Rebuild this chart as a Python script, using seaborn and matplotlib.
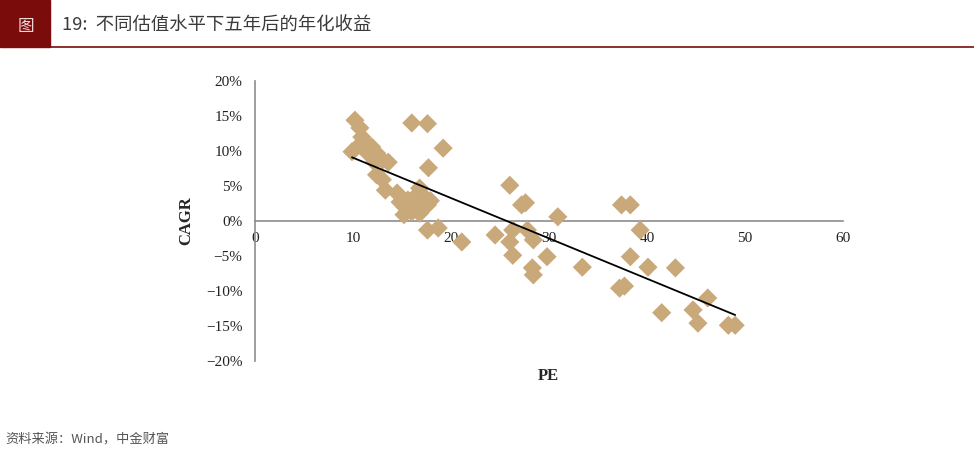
import numpy as np
import pandas as pd
import matplotlib
matplotlib.use("Agg")
import matplotlib.pyplot as plt
import seaborn as sns

# Data (PE vs. 5-year forward CAGR, %)
pe = [10.2, 10.7, 10.9, 9.9, 11.9, 11.5, 12.4, 12.2, 13.0, 13.6,
      12.4, 13.0, 13.3, 14.5, 14.8, 15.3, 16.0, 16.3, 16.8, 16.5,
      16.8, 17.6, 17.9, 17.6, 18.7, 21.1, 16.0, 17.6, 19.2, 17.7,
      11.3, 10.7, 15.6, 17.1, 15.2,
      24.5, 26.0, 27.6, 27.2, 30.9, 26.3, 27.8, 28.4, 26.0, 26.3,
      29.8, 28.3, 28.4, 33.4, 37.4, 38.3, 39.3, 38.3, 40.1, 42.9,
      37.2, 37.7, 41.5, 44.7, 45.2, 46.2, 48.3, 49.0]
cagr = [14.4, 13.3, 12.0, 9.9, 10.6, 9.7, 9.7, 8.4, 8.7, 8.4,
        6.6, 5.9, 4.4, 4.0, 2.7, 2.0, 1.3, 3.4, 4.7, 2.0,
        1.1, 2.3, 2.9, -1.3, -1.0, -3.0, 14.0, 13.9, 10.4, 7.6,
        11.1, 10.9, 3.0, 3.7, 0.9,
        -2.0, 5.1, 2.6, 2.3, 0.6, -1.3, -1.3, -2.7, -3.0, -4.9,
        -5.1, -6.7, -7.7, -6.6, 2.3, 2.3, -1.3, -5.1, -6.6, -6.7,
        -9.6, -9.3, -13.1, -12.7, -14.6, -11.0, -14.9, -14.9]

x_ticks = [0, 10, 20, 30, 40, 50, 60]
y_ticks = [-20, -15, -10, -5, 0, 5, 10, 15, 20]

df = pd.DataFrame({"PE": pe, "CAGR": cagr})

sns.set_theme(style="white")
plt.rcParams["font.family"] = ["Liberation Serif", "Noto Sans CJK SC"]

fig = plt.figure(figsize=(9.74, 4.55), dpi=100)
ax = fig.add_axes([0.2618, 0.2066, 0.6037, 0.6154])

dark_red = "#7a0c0c"
tan = "#c9a87a"

sns.scatterplot(data=df, x="PE", y="CAGR", marker="D", s=95, color=tan,
                edgecolor="none", ax=ax, zorder=3)
sns.regplot(data=df, x="PE", y="CAGR", scatter=False, ci=None, truncate=True,
            line_kws={"color": "black", "lw": 1.3, "zorder": 4}, ax=ax)

ax.set_xlim(0, 60)
ax.set_ylim(-20, 20)
ax.set_xticks(x_ticks)
ax.set_yticks(y_ticks)
ax.set_xticklabels([str(t) for t in x_ticks])
ax.set_yticklabels([f"{t}%".replace("-", "\u2212") for t in y_ticks])
ax.tick_params(axis="both", length=0, labelsize=11, colors="#222222")
ax.tick_params(axis="y", pad=9)
ax.tick_params(axis="x", pad=8)
ax.set_xlabel("")
ax.set_ylabel("")

for side in ["top", "right"]:
    ax.spines[side].set_visible(False)
ax.spines["bottom"].set_position(("data", 0))
ax.spines["left"].set_position(("data", 0))
for side in ["bottom", "left"]:
    ax.spines[side].set_color("#8c8c8c")
    ax.spines[side].set_linewidth(1.2)

fig.text(548 / 974, 1 - 376 / 455, "PE", ha="center", va="center",
         fontsize=12, fontweight="bold", family="Liberation Serif")
fig.text(186 / 974, 1 - 221 / 455, "CAGR", ha="center", va="center",
         rotation=90, fontsize=12, fontweight="bold", family="Liberation Serif")

# Header bar
fig.patches.append(plt.Rectangle((0, 1 - 47 / 455), 50 / 974, 47 / 455,
                                 transform=fig.transFigure, color=dark_red))
fig.text(26 / 974, 1 - 26 / 455, "图", ha="center", va="center", fontsize=12,
         color="#f0d8d8", family=["Noto Sans CJK SC"])
fig.text(62 / 974, 1 - 26 / 455, "19:  不同估值水平下五年后的年化收益",
         ha="left", va="center", fontsize=13.2, color="#3a3a3a",
         family=["Noto Sans CJK SC"])
fig.add_artist(plt.Line2D([0, 1], [1 - 47 / 455, 1 - 47 / 455],
                          transform=fig.transFigure, color=dark_red, lw=1.2))

fig.text(5 / 974, 1 - 440 / 455, "资料来源：Wind，中金财富", ha="left",
         va="center", fontsize=9.5, color="#555555", family=["Noto Sans CJK SC"])

fig.savefig("out.png", dpi=100)
